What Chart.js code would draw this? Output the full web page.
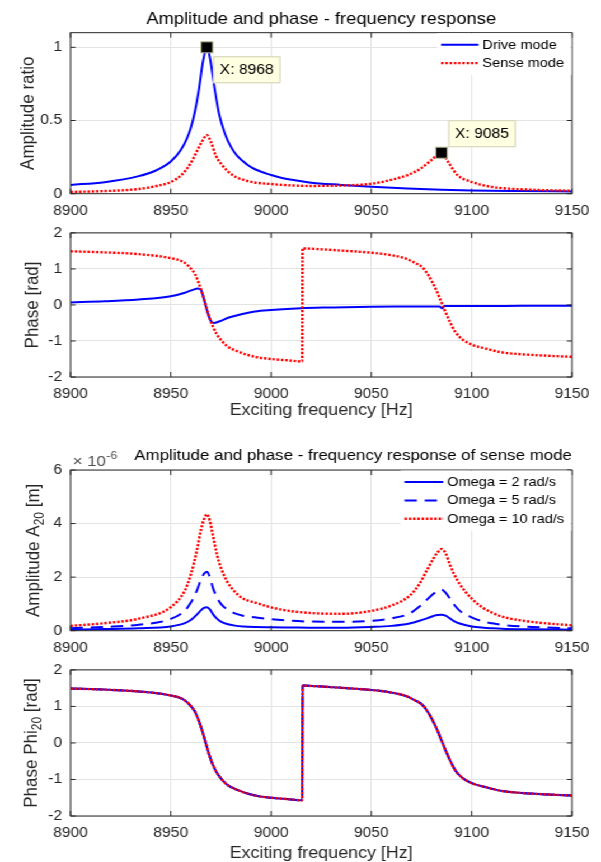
<!DOCTYPE html>
<html>
<head>
<meta charset="utf-8">
<script src="https://cdn.jsdelivr.net/npm/chart.js@4.4.1/dist/chart.umd.min.js"></script>
<style>
  html, body { margin: 0; padding: 0; background: #fff; overflow: hidden; }
  /* the reference figure is stretched a little horizontally, so the whole figure is too */
  #fig { position: absolute; left: 0; top: 0; width: 537px; height: 862px; transform: scaleX(1.1192); transform-origin: 0 0; }
  #fig canvas { position: absolute; left: 0; }
</style>
</head>
<body>
<div id="fig">
  <canvas id="c1" width="537" height="222" style="top:0px"></canvas>
  <canvas id="c2" width="537" height="214" style="top:217px"></canvas>
  <canvas id="c3" width="537" height="222" style="top:432px"></canvas>
  <canvas id="c4" width="537" height="210" style="top:654px"></canvas>
</div>
<script>
// ---- data ----
const freqTicks = [8900, 8950, 9000, 9050, 9100, 9150];
const ratioTicks = [0, 0.5, 1];
const phaseTicks = [-2, -1, 0, 1, 2];
const ampTicks = [0, 2, 4, 6]; // x 1e-6 m

// amplitude ratio
const driveAmpFreq = [8900, 8917, 8934, 8942, 8950, 8955, 8958, 8960, 8962, 8964, 8966, 8968, 8969.5, 8971.5, 8974, 8977, 8980, 8983, 8988, 8992, 9000, 9005, 9012, 9019, 9035, 9050, 9068, 9085, 9100, 9125, 9150];
const driveAmp = [0.06, 0.079, 0.12, 0.155, 0.22, 0.298, 0.376, 0.45, 0.56, 0.71, 0.9, 1.0, 0.93, 0.75, 0.55, 0.41, 0.32, 0.26, 0.2, 0.167, 0.128, 0.109, 0.092, 0.077, 0.06, 0.047, 0.035, 0.027, 0.022, 0.018, 0.015];
const senseAmpFreq = [8900, 8917, 8934, 8942, 8950, 8955.5, 8960, 8963, 8965.5, 8968, 8970, 8972.3, 8975.5, 8980.5, 8989, 9000, 9010, 9019, 9035, 9050, 9060, 9068.6, 9075, 9080, 9085, 9088.6, 9092.7, 9100, 9108.5, 9115, 9130, 9150];
const senseAmp = [0.012, 0.018, 0.032, 0.05, 0.08, 0.13, 0.21, 0.29, 0.355, 0.4, 0.355, 0.265, 0.197, 0.13, 0.084, 0.066, 0.057, 0.053, 0.056, 0.068, 0.095, 0.13, 0.175, 0.23, 0.28, 0.21, 0.13, 0.08, 0.05, 0.038, 0.027, 0.02];
const tipFreq = [8968, 9085];
const tipValue = [1, 0.28];

// phase
const drivePhaseFreq = [8900, 8917, 8934, 8950, 8957, 8961, 8963.5, 8965, 8966.6, 8968.2, 8969.9, 8971.5, 8974, 8979, 8985.7, 8992, 9000, 9015, 9030, 9050, 9070, 9084, 9085.3, 9086.5, 9100, 9125, 9150];
const drivePhase = [0.07, 0.1, 0.15, 0.24, 0.34, 0.42, 0.46, 0.42, 0.15, -0.18, -0.44, -0.5, -0.46, -0.35, -0.25, -0.18, -0.14, -0.09, -0.07, -0.05, -0.045, -0.04, -0.1, -0.03, -0.03, -0.025, -0.02];
const sensePhaseFreq = [8900, 8917, 8934, 8950, 8956, 8959, 8962, 8964, 8966, 8967.4, 8969, 8971, 8973, 8975, 8978, 8982.5, 8992, 9000, 9009, 9015.5, 9015.7, 9020, 9035, 9050, 9059, 9067, 9072, 9075.5, 9078.5, 9080.5, 9082.5, 9084, 9085.5, 9087, 9089, 9092, 9095.5, 9100, 9107, 9114.5, 9125, 9138, 9150];
const sensePhase = [1.49, 1.46, 1.41, 1.3, 1.2, 1.07, 0.86, 0.6, 0.27, 0, -0.3, -0.6, -0.82, -0.97, -1.14, -1.27, -1.44, -1.5, -1.54, -1.57, 1.57, 1.56, 1.51, 1.45, 1.39, 1.29, 1.16, 1.04, 0.82, 0.62, 0.4, 0.2, 0, -0.2, -0.45, -0.76, -0.96, -1.1, -1.21, -1.31, -1.37, -1.41, -1.44];

// sense mode amplitude A20, in 1e-6 m
const a20Freq = [8900, 8917, 8934, 8950, 8957, 8960, 8963, 8965, 8966.5, 8968, 8969.5, 8971, 8973, 8975, 8978, 8982, 8986, 8992, 9000, 9010, 9020, 9035, 9050, 9060, 9069, 9074, 9078, 9081, 9083, 9085, 9087, 9089, 9091, 9094, 9100, 9106, 9110, 9115, 9130, 9150];
const a20Omega2 = [0.04, 0.06, 0.09, 0.16, 0.28, 0.4, 0.6, 0.76, 0.85, 0.88, 0.8, 0.62, 0.45, 0.34, 0.25, 0.19, 0.16, 0.14, 0.13, 0.12, 0.11, 0.11, 0.14, 0.18, 0.27, 0.37, 0.47, 0.55, 0.59, 0.6, 0.56, 0.47, 0.37, 0.27, 0.16, 0.11, 0.09, 0.07, 0.05, 0.04];
const a20Omega5 = [0.09, 0.14, 0.22, 0.44, 0.75, 1.05, 1.5, 1.9, 2.12, 2.2, 2.0, 1.6, 1.25, 1.0, 0.8, 0.65, 0.56, 0.5, 0.43, 0.37, 0.34, 0.33, 0.37, 0.46, 0.64, 0.9, 1.18, 1.38, 1.48, 1.53, 1.42, 1.22, 1.0, 0.75, 0.5, 0.34, 0.28, 0.22, 0.14, 0.09];
const a20Omega10 = [0.18, 0.28, 0.45, 0.88, 1.5, 2.1, 3.0, 3.75, 4.15, 4.35, 4.1, 3.55, 2.85, 2.35, 1.85, 1.45, 1.2, 1.05, 0.87, 0.73, 0.66, 0.63, 0.74, 0.94, 1.3, 1.75, 2.3, 2.7, 2.92, 3.05, 2.9, 2.5, 2.15, 1.75, 1.2, 0.84, 0.68, 0.53, 0.33, 0.2];

// ---- styling ----
const FONT = '"Liberation Sans", Arial, Helvetica, sans-serif';
const axisColor = '#262626';
const gridColor = '#e3e3e3';
const BLUE = '#0000ff', RED = '#ff0000';
const DOTS = [2.2, 1.6], DASH = [11, 7];

Chart.defaults.font.family = FONT;
Chart.defaults.color = axisColor;

function pts(xs, ys) {
  return xs.map((x, i) => ({ x: x, y: ys[i] }));
}

function line(label, xs, ys, color, dash, order) {
  return {
    label: label,
    data: pts(xs, ys),
    borderColor: color,
    borderWidth: dash === DOTS ? 2.4 : 2,
    borderDash: dash || [],
    pointRadius: 0,
    fill: false,
    cubicInterpolationMode: 'monotone',
    order: order
  };
}

function fontStr(size) {
  return size + 'px ' + FONT;
}

// box, inward ticks, legend, data tips, y label with subscripts
function decor(cfg) {
  return {
    id: 'decor',
    afterDatasetsDraw(chart) {
      const ctx = chart.ctx;
      const a = chart.chartArea;
      const xs = chart.scales.x, ys = chart.scales.y;
      ctx.save();
      ctx.setLineDash([]);
      ctx.strokeStyle = axisColor;
      ctx.lineWidth = 1;
      ctx.strokeRect(a.left, a.top, a.right - a.left, a.bottom - a.top);
      ctx.beginPath();
      xs.ticks.forEach(t => {
        const px = xs.getPixelForValue(t.value);
        ctx.moveTo(px, a.bottom); ctx.lineTo(px, a.bottom - 5);
        ctx.moveTo(px, a.top); ctx.lineTo(px, a.top + 5);
      });
      ys.ticks.forEach(t => {
        const py = ys.getPixelForValue(t.value);
        ctx.moveTo(a.left, py); ctx.lineTo(a.left + 4.5, py);
        ctx.moveTo(a.right, py); ctx.lineTo(a.right - 4.5, py);
      });
      ctx.stroke();

      if (cfg.legend) {
        const sets = chart.data.datasets;
        ctx.font = fontStr(13);
        const tw = Math.max(...sets.map(d => ctx.measureText(d.label).width));
        const textX = a.right - 7 - tw;
        const x0 = textX - 3.5 - cfg.legend.sample;
        const boxL = x0 - 3.5;
        ctx.fillStyle = '#fff';
        ctx.fillRect(boxL, a.top + 0.5, a.right - 0.5 - boxL, sets.length * 18.4 + 5);
        sets.forEach((d, i) => {
          const y = a.top + 12 + i * 18.4;
          ctx.strokeStyle = d.borderColor;
          ctx.lineWidth = d.borderWidth;
          ctx.setLineDash(d.borderDash);
          ctx.beginPath(); ctx.moveTo(x0, y); ctx.lineTo(x0 + cfg.legend.sample, y); ctx.stroke();
          ctx.setLineDash([]);
          ctx.fillStyle = '#000';
          ctx.textAlign = 'left';
          ctx.textBaseline = 'middle';
          ctx.fillText(d.label, textX, y + 0.5);
        });
      }

      (cfg.tips || []).forEach(tp => {
        const px = xs.getPixelForValue(tp.x), py = ys.getPixelForValue(tp.y);
        ctx.font = fontStr(14);
        const txt = 'X: ' + tp.x;
        const w = ctx.measureText(txt).width + 12, h = 27;
        const bx = px + tp.dx;
        const by = tp.dy > 0 ? py + tp.dy : py + tp.dy - h;
        ctx.fillStyle = '#ffffe1';
        ctx.fillRect(bx, by, w, h);
        ctx.strokeStyle = '#cfcfb8';
        ctx.lineWidth = 1;
        ctx.strokeRect(bx + 0.5, by + 0.5, w - 1, h - 1);
        ctx.fillStyle = '#000';
        ctx.textAlign = 'left';
        ctx.textBaseline = 'middle';
        ctx.fillText(txt, bx + 6, by + h / 2 + 0.5);
        ctx.fillStyle = '#000';
        ctx.fillRect(px - 5.2, py - 5.5, 10.4, 11);
        ctx.strokeStyle = '#b4b48c';
        ctx.strokeRect(px - 5.2, py - 5.5, 10.4, 11);
      });

      if (cfg.exponent) {
        ctx.fillStyle = '#4d4d4d';
        ctx.textAlign = 'left';
        ctx.textBaseline = 'alphabetic';
        ctx.font = fontStr(15);
        ctx.fillText('\u00d7 10', a.left + 2, a.top - 4);
        const w = ctx.measureText('\u00d7 10').width;
        ctx.font = fontStr(11);
        ctx.fillText('-6', a.left + 2.5 + w, a.top - 11.5);
      }

      if (cfg.yLabel) {
        const big = 17, small = 12;
        ctx.translate(cfg.yLabelX, (a.top + a.bottom) / 2);
        ctx.rotate(-Math.PI / 2);
        let total = 0;
        cfg.yLabel.forEach(p => { ctx.font = fontStr(p[1] ? small : big); total += ctx.measureText(p[0]).width; });
        let x = -total / 2;
        ctx.fillStyle = axisColor;
        ctx.textAlign = 'left';
        ctx.textBaseline = 'alphabetic';
        cfg.yLabel.forEach(p => {
          ctx.font = fontStr(p[1] ? small : big);
          ctx.fillText(p[0], x, p[1] ? 8.5 : 5);
          x += ctx.measureText(p[0]).width;
        });
      }
      ctx.restore();
    }
  };
}

function options(cfg) {
  return {
    responsive: false,
    animation: false,
    devicePixelRatio: 1,
    layout: { padding: { left: 0, right: 26, top: cfg.padTop, bottom: 0 } },
    plugins: {
      legend: { display: false },
      tooltip: { enabled: false },
      title: cfg.title ? {
        display: true,
        text: cfg.title,
        fullSize: false,
        align: cfg.titleAlign,
        color: '#000',
        font: { size: cfg.titleSize, weight: 'normal' },
        padding: cfg.titlePad
      } : { display: false }
    },
    scales: {
      x: {
        type: 'linear',
        min: 8900,
        max: 9150,
        afterBuildTicks: s => { s.ticks = freqTicks.map(v => ({ value: v })); },
        afterFit: s => { s.height = cfg.xHeight; },
        grid: { color: gridColor, drawTicks: false },
        border: { display: false },
        ticks: { padding: 9.2, color: axisColor, font: { size: 14 }, maxRotation: 0, autoSkip: false, callback: v => String(v) },
        title: cfg.xTitle ? {
          display: true,
          text: 'Exciting frequency [Hz]',
          color: axisColor,
          font: { size: 16 },
          padding: { top: 0, bottom: cfg.xTitlePad }
        } : { display: false }
      },
      y: {
        type: 'linear',
        min: cfg.yMin,
        max: cfg.yMax,
        afterBuildTicks: s => { s.ticks = cfg.yTicks.map(v => ({ value: v })); },
        afterFit: s => { s.width = 63; },
        grid: { color: gridColor, drawTicks: false },
        border: { display: false },
        ticks: { padding: 7.5, color: axisColor, font: { size: 14 }, callback: v => String(v) }
      }
    }
  };
}

new Chart(document.getElementById('c1'), {
  type: 'line',
  data: { datasets: [
    line('Drive mode', driveAmpFreq, driveAmp, BLUE, null, 2),
    line('Sense mode', senseAmpFreq, senseAmp, RED, DOTS, 1)
  ] },
  options: options({ padTop: 0, xHeight: 28.3, yMin: 0, yMax: 1.1, yTicks: ratioTicks,
    title: 'Amplitude and phase - frequency response', titleAlign: 'center', titleSize: 16.4,
    titlePad: { top: 9.5, bottom: 3.5 } }),
  plugins: [decor({
    legend: { sample: 33.4 },
    tips: [
      { x: tipFreq[0], y: tipValue[0], dx: 5.5, dy: 9 },
      { x: tipFreq[1], y: tipValue[1], dx: 6, dy: -5.5 }
    ],
    yLabel: [['Amplitude ratio', false]], yLabelX: 25
  })]
});

new Chart(document.getElementById('c2'), {
  type: 'line',
  data: { datasets: [
    line('Drive mode', drivePhaseFreq, drivePhase, BLUE, null, 2),
    line('Sense mode', sensePhaseFreq, sensePhase, RED, DOTS, 1)
  ] },
  options: options({ padTop: 9.7, xHeight: 54, yMin: -2, yMax: 2, yTicks: phaseTicks,
    xTitle: true, xTitlePad: 10.4 }),
  plugins: [decor({ yLabel: [['Phase [rad]', false]], yLabelX: 28.5 })]
});

new Chart(document.getElementById('c3'), {
  type: 'line',
  data: { datasets: [
    line('Omega = 2 rad/s', a20Freq, a20Omega2, BLUE, null, 3),
    line('Omega = 5 rad/s', a20Freq, a20Omega5, BLUE, DASH, 2),
    line('Omega = 10 rad/s', a20Freq, a20Omega10, RED, DOTS, 1)
  ] },
  options: options({ padTop: 0, xHeight: 23.3, yMin: 0, yMax: 6, yTicks: ampTicks,
    title: 'Amplitude and phase - frequency response of sense mode', titleAlign: 'end', titleSize: 15.1,
    titlePad: { top: 14.3, bottom: 5.6 } }),
  plugins: [decor({
    legend: { sample: 34.6 },
    exponent: true,
    yLabel: [['Amplitude A', false], ['20', true], [' [m]', false]], yLabelX: 30
  })]
});

new Chart(document.getElementById('c4'), {
  type: 'line',
  data: { datasets: [
    line('Omega = 2 rad/s', sensePhaseFreq, sensePhase, BLUE, null, 3),
    line('Omega = 5 rad/s', sensePhaseFreq, sensePhase, BLUE, DASH, 2),
    line('Omega = 10 rad/s', sensePhaseFreq, sensePhase, RED, DOTS, 1)
  ] },
  options: options({ padTop: 10.7, xHeight: 48, yMin: -2, yMax: 2, yTicks: phaseTicks,
    xTitle: true, xTitlePad: 0.4 }),
  plugins: [decor({ yLabel: [['Phase Phi', false], ['20', true], [' [rad]', false]], yLabelX: 28 })]
});
</script>
</body>
</html>
